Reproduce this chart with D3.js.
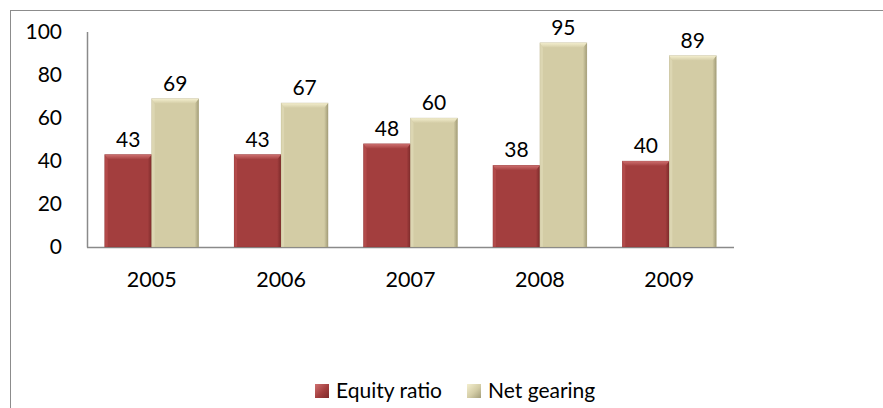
<!DOCTYPE html>
<html>
<head>
<meta charset="utf-8">
<script src="https://cdn.jsdelivr.net/npm/d3@7"></script>
<style>
  html, body { margin: 0; padding: 0; background: #fff; }
  svg { display: block; font-family: Lato, "Open Sans", sans-serif; }
</style>
</head>
<body>
<svg id="chart" width="883" height="408"></svg>
<script>
// Chart data
const years = ["2005", "2006", "2007", "2008", "2009"];
const equityRatio = [43, 43, 48, 38, 40];
const netGearing = [69, 67, 60, 95, 89];
const yTicks = [0, 20, 40, 60, 80, 100];
const seriesNames = ["Equity ratio", "Net gearing"];

const palette = [
  { base: "#a33e3e", light: "#cf7171", dark: "#7c2a2a", side: "#b24a4a" },
  { base: "#d3cca5", light: "#f4efcf", dark: "#a39d79", side: "#dcd6b2" }
];

const svg = d3.select("#chart");

// Outer frame (only top and left edges fall inside the view)
svg.append("rect")
  .attr("x", 10.5).attr("y", 10.5)
  .attr("width", 900).attr("height", 420)
  .attr("fill", "none").attr("stroke", "#8c8c8c").attr("stroke-width", 1);

const plot = { left: 87, right: 734, top: 32, bottom: 247 };

const x0 = d3.scaleBand().domain(years)
  .range([plot.left, plot.right]).paddingInner(0.274).paddingOuter(0.137);
const x1 = d3.scaleBand().domain(seriesNames)
  .range([0, x0.bandwidth()]);
const y = d3.scaleLinear().domain([0, 100]).range([plot.bottom, plot.top]);

// Axis lines
svg.append("line")
  .attr("x1", plot.left + 0.5).attr("x2", plot.left + 0.5)
  .attr("y1", y(100)).attr("y2", y(0) + 0.5)
  .attr("stroke", "#8a8a8a").attr("stroke-width", 1.5);
svg.append("line")
  .attr("x1", plot.left).attr("x2", plot.right)
  .attr("y1", y(0) + 0.5).attr("y2", y(0) + 0.5)
  .attr("stroke", "#8a8a8a").attr("stroke-width", 1.5);

// Y tick labels
const yAxis = d3.axisLeft(y).tickValues(yTicks).tickSize(0).tickPadding(0);
const gy = svg.append("g").attr("transform", `translate(${plot.left - 25},0)`).call(yAxis);
gy.select(".domain").remove();
gy.selectAll("text").attr("font-size", 21).attr("fill", "#000")
  .attr("font-family", "Lato, sans-serif");

// X labels
const xAxis = d3.axisBottom(x0).tickSize(0).tickPadding(0);
const gx = svg.append("g").attr("transform", `translate(0,${plot.bottom + 25})`).call(xAxis);
gx.select(".domain").remove();
gx.selectAll("text").attr("font-size", 21.5).attr("fill", "#000")
  .attr("font-family", "Lato, sans-serif");

// Gradients for the bevel highlights
const defs = svg.append("defs");
palette.forEach((p, i) => {
  const g = defs.append("linearGradient").attr("id", "top" + i)
    .attr("x1", 0).attr("y1", 0).attr("x2", 0).attr("y2", 1);
  g.append("stop").attr("offset", "0%").attr("stop-color", p.light);
  g.append("stop").attr("offset", "100%").attr("stop-color", p.base);
  const r = defs.append("linearGradient").attr("id", "right" + i)
    .attr("x1", 0).attr("y1", 0).attr("x2", 1).attr("y2", 0);
  r.append("stop").attr("offset", "0%").attr("stop-color", p.base);
  r.append("stop").attr("offset", "100%").attr("stop-color", p.dark);
  const lg = defs.append("linearGradient").attr("id", "leg" + i)
    .attr("x1", 0).attr("y1", 0).attr("x2", 1).attr("y2", 1);
  lg.append("stop").attr("offset", "0%").attr("stop-color", p.light);
  lg.append("stop").attr("offset", "55%").attr("stop-color", p.base);
  lg.append("stop").attr("offset", "100%").attr("stop-color", p.dark);
});

const rows = years.map((yr, i) => ({
  year: yr,
  values: [equityRatio[i], netGearing[i]]
}));

const bevel = 5;
function drawBar(g, x, w, v, si) {
  const p = palette[si];
  const top = y(v), bot = y(0);
  const h = bot - top;
  g.append("rect").attr("x", x).attr("y", top).attr("width", w).attr("height", h)
    .attr("fill", p.base);
  // left edge
  g.append("polygon")
    .attr("points", [[x, top], [x + 3, top + bevel], [x + 3, bot], [x, bot]].join(" "))
    .attr("fill", p.side);
  // right edge
  g.append("polygon")
    .attr("points", [[x + w, top], [x + w - 4, top + bevel], [x + w - 4, bot], [x + w, bot]].join(" "))
    .attr("fill", `url(#right${si})`);
  // top edge
  g.append("polygon")
    .attr("points", [[x, top], [x + w, top], [x + w - 4, top + bevel], [x + 3, top + bevel]].join(" "))
    .attr("fill", `url(#top${si})`);
  g.append("rect").attr("x", x).attr("y", top).attr("width", w).attr("height", h)
    .attr("fill", "none").attr("stroke", p.dark).attr("stroke-opacity", 0.35).attr("stroke-width", 0.6);
}

const groups = svg.append("g").selectAll("g").data(rows).join("g");
groups.each(function(d) {
  const g = d3.select(this);
  d.values.forEach((v, si) => {
    const bx = x0(d.year) + x1(seriesNames[si]);
    drawBar(g, bx, x1.bandwidth(), v, si);
    g.append("text")
      .attr("x", bx + x1.bandwidth() / 2)
      .attr("y", y(v) - 8)
      .attr("text-anchor", "middle")
      .attr("font-size", 21).attr("fill", "#000")
      .text(v);
  });
});

// Legend
const legend = svg.append("g").attr("transform", "translate(315,391)");
const legendX = [0, 152];
seriesNames.forEach((name, i) => {
  const lg = legend.append("g").attr("transform", `translate(${legendX[i]},0)`);
  lg.append("rect").attr("x", 0).attr("y", -7).attr("width", 14).attr("height", 14)
    .attr("fill", `url(#leg${i})`);
  lg.append("text").attr("x", 21).attr("y", 0).attr("dy", "0.35em")
    .attr("font-size", 21).attr("fill", "#000").text(name);
});
</script>
</body>
</html>
